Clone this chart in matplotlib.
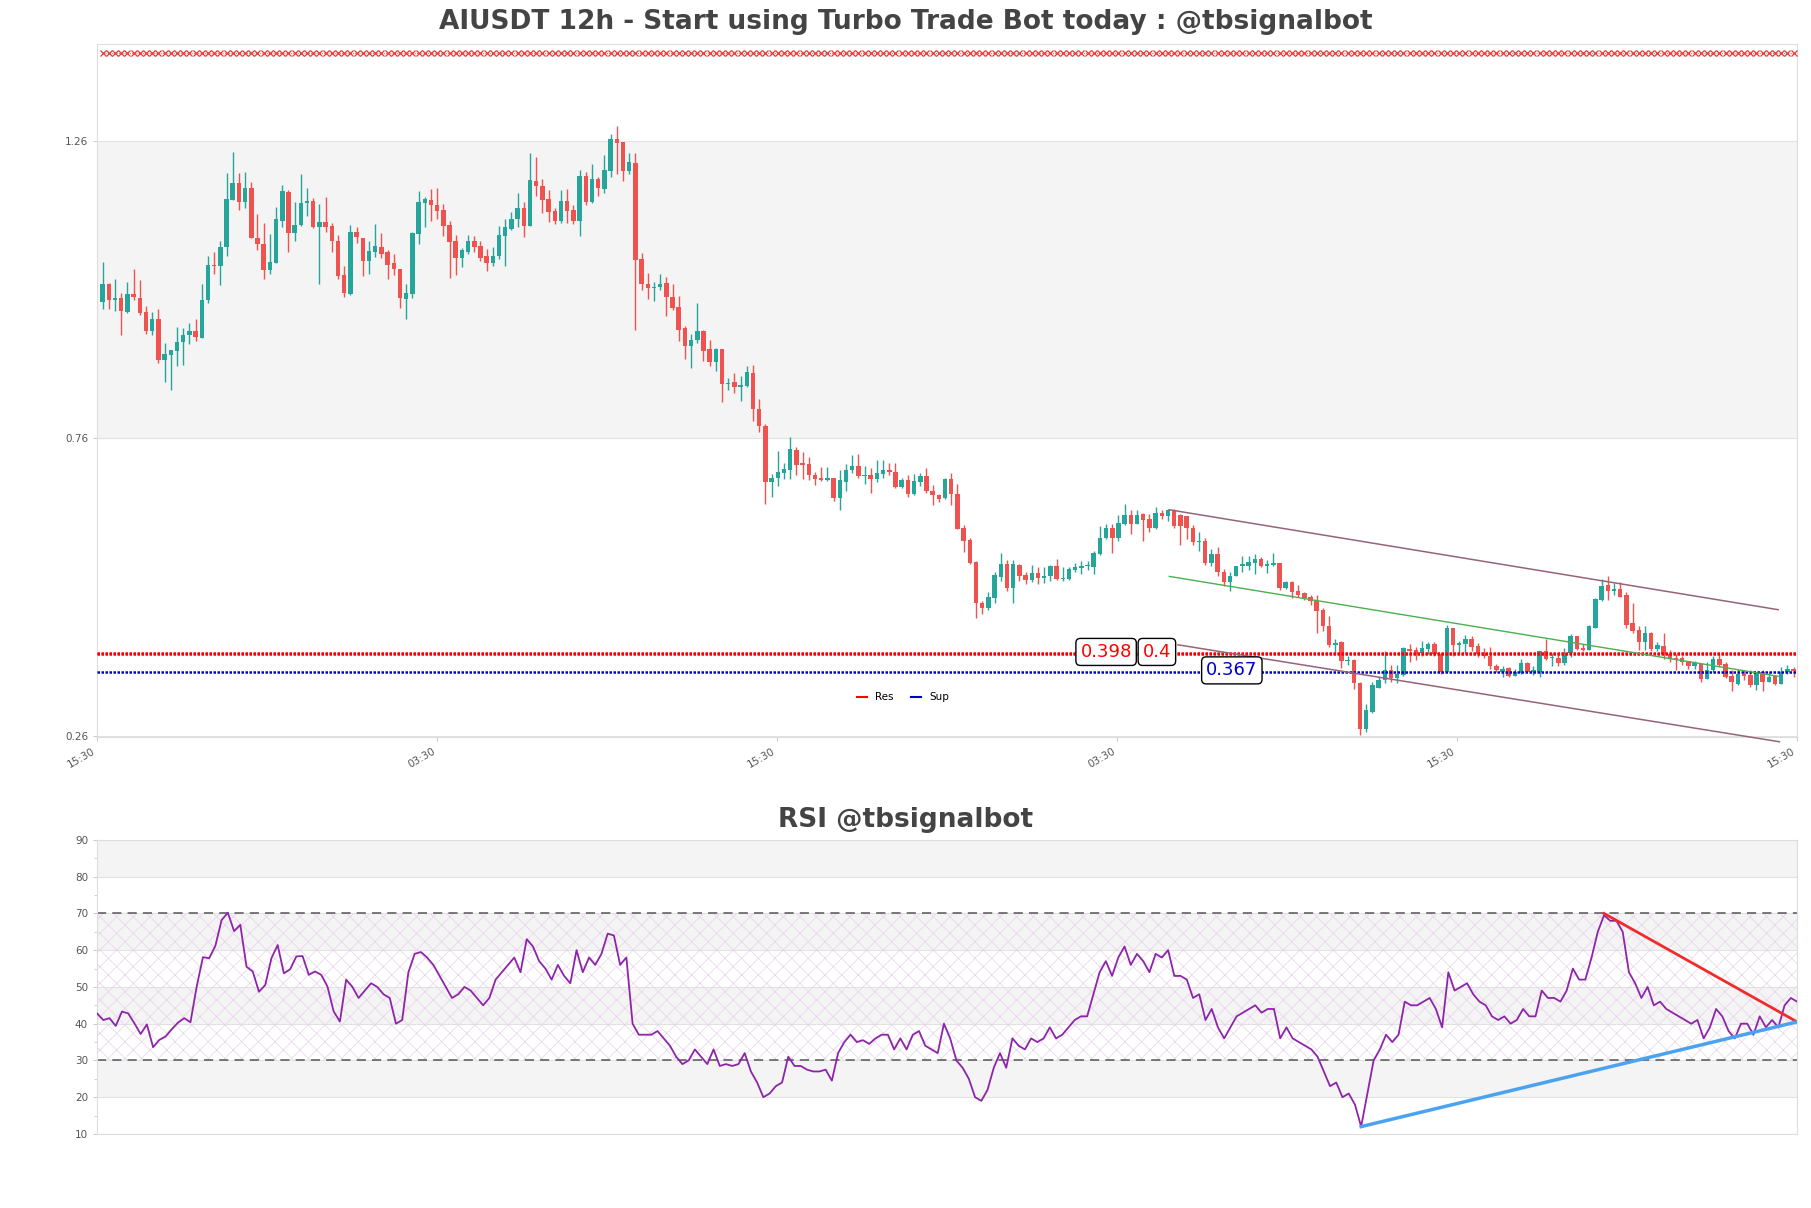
import numpy as np
import matplotlib
matplotlib.use("Agg")
import matplotlib.pyplot as plt
from matplotlib.lines import Line2D
from matplotlib.ticker import AutoMinorLocator

# 12h candles
opens = [
    0.990, 1.019, 0.993, 0.996, 0.973, 1.003, 0.996, 0.972, 0.940, 0.961,
    0.892, 0.900, 0.907, 0.922, 0.933, 0.940, 0.929, 0.992, 1.052, 1.049,
    1.082, 1.160, 1.189, 1.157, 1.181, 1.097, 1.087, 1.043, 1.055, 1.126,
    1.174, 1.106, 1.119, 1.155, 1.159, 1.116, 1.124, 1.117, 1.092, 1.034,
    1.003, 1.107, 1.097, 1.059, 1.074, 1.082, 1.073, 1.054, 1.045, 0.995,
    1.003, 1.104, 1.155, 1.161, 1.153, 1.144, 1.119, 1.091, 1.064, 1.073,
    1.091, 1.084, 1.066, 1.054, 1.067, 1.100, 1.112, 1.129, 1.147, 1.117,
    1.193, 1.185, 1.163, 1.143, 1.126, 1.159, 1.144, 1.125, 1.201, 1.157,
    1.196, 1.180, 1.210, 1.264, 1.258, 1.209, 1.223, 1.062, 1.020, 1.013,
    1.014, 1.021, 0.998, 0.981, 0.945, 0.915, 0.925, 0.940, 0.911, 0.888,
    0.910, 0.851, 0.854, 0.846, 0.848, 0.870, 0.810, 0.780, 0.686, 0.693,
    0.702, 0.707, 0.740, 0.718, 0.717, 0.698, 0.693, 0.690, 0.693, 0.660,
    0.687, 0.706, 0.713, 0.697, 0.698, 0.691, 0.700, 0.707, 0.704, 0.679,
    0.690, 0.667, 0.687, 0.696, 0.672, 0.664, 0.660, 0.691, 0.666, 0.609,
    0.589, 0.553, 0.483, 0.475, 0.492, 0.527, 0.549, 0.508, 0.547, 0.531,
    0.522, 0.534, 0.526, 0.528, 0.546, 0.524, 0.524, 0.539, 0.542, 0.545,
    0.544, 0.565, 0.592, 0.610, 0.592, 0.616, 0.632, 0.616, 0.633, 0.624,
    0.610, 0.634, 0.629, 0.639, 0.631, 0.630, 0.610, 0.585, 0.588, 0.550,
    0.565, 0.536, 0.518, 0.529, 0.545, 0.545, 0.550, 0.557, 0.546, 0.547,
    0.550, 0.508, 0.519, 0.504, 0.500, 0.493, 0.487, 0.472, 0.444, 0.413,
    0.417, 0.385, 0.387, 0.349, 0.272, 0.300, 0.341, 0.353, 0.370, 0.357,
    0.363, 0.406, 0.405, 0.399, 0.406, 0.414, 0.398, 0.367, 0.441, 0.412,
    0.414, 0.423, 0.411, 0.400, 0.395, 0.378, 0.368, 0.374, 0.361, 0.365,
    0.382, 0.367, 0.367, 0.402, 0.390, 0.391, 0.383, 0.399, 0.427, 0.408,
    0.405, 0.442, 0.489, 0.513, 0.504, 0.507, 0.497, 0.449, 0.438, 0.418,
    0.433, 0.406, 0.411, 0.398, 0.390, 0.390, 0.385, 0.378, 0.381, 0.356,
    0.370, 0.389, 0.381, 0.360, 0.347, 0.364, 0.362, 0.346, 0.367, 0.351,
    0.360, 0.347, 0.367, 0.372,
]
highs = [
    1.057, 1.021, 1.028, 1.005, 1.023, 1.044, 1.027, 0.982, 0.973, 0.977,
    0.920, 0.908, 0.948, 0.945, 0.954, 0.961, 1.019, 1.067, 1.073, 1.091,
    1.206, 1.241, 1.206, 1.207, 1.191, 1.137, 1.122, 1.103, 1.149, 1.186,
    1.178, 1.157, 1.205, 1.181, 1.164, 1.154, 1.165, 1.122, 1.102, 1.049,
    1.119, 1.116, 1.097, 1.092, 1.120, 1.105, 1.076, 1.070, 1.045, 1.020,
    1.107, 1.176, 1.165, 1.179, 1.181, 1.154, 1.126, 1.102, 1.080, 1.102,
    1.101, 1.091, 1.078, 1.081, 1.117, 1.129, 1.140, 1.172, 1.158, 1.239,
    1.233, 1.196, 1.177, 1.147, 1.177, 1.179, 1.153, 1.211, 1.207, 1.221,
    1.199, 1.237, 1.272, 1.285, 1.258, 1.240, 1.239, 1.072, 1.038, 1.023,
    1.036, 1.032, 1.020, 0.999, 0.949, 0.935, 0.988, 0.943, 0.926, 0.912,
    0.911, 0.862, 0.870, 0.865, 0.882, 0.883, 0.826, 0.785, 0.700, 0.739,
    0.719, 0.763, 0.745, 0.737, 0.728, 0.703, 0.712, 0.712, 0.694, 0.707,
    0.717, 0.732, 0.733, 0.714, 0.711, 0.723, 0.723, 0.718, 0.719, 0.693,
    0.698, 0.700, 0.701, 0.710, 0.681, 0.666, 0.693, 0.702, 0.683, 0.614,
    0.592, 0.554, 0.486, 0.501, 0.535, 0.567, 0.555, 0.555, 0.549, 0.535,
    0.547, 0.543, 0.543, 0.547, 0.558, 0.543, 0.543, 0.550, 0.554, 0.554,
    0.571, 0.612, 0.616, 0.616, 0.631, 0.650, 0.639, 0.639, 0.634, 0.633,
    0.644, 0.639, 0.642, 0.641, 0.633, 0.630, 0.614, 0.602, 0.593, 0.574,
    0.577, 0.540, 0.535, 0.546, 0.563, 0.563, 0.565, 0.560, 0.556, 0.567,
    0.550, 0.521, 0.521, 0.514, 0.501, 0.496, 0.496, 0.475, 0.461, 0.422,
    0.420, 0.395, 0.389, 0.350, 0.314, 0.350, 0.359, 0.403, 0.379, 0.379,
    0.409, 0.414, 0.409, 0.420, 0.417, 0.417, 0.400, 0.447, 0.442, 0.420,
    0.430, 0.427, 0.416, 0.407, 0.409, 0.381, 0.378, 0.375, 0.373, 0.389,
    0.384, 0.378, 0.403, 0.423, 0.399, 0.400, 0.407, 0.431, 0.428, 0.414,
    0.446, 0.491, 0.523, 0.529, 0.517, 0.518, 0.501, 0.484, 0.445, 0.445,
    0.434, 0.417, 0.433, 0.405, 0.398, 0.395, 0.386, 0.386, 0.383, 0.384,
    0.395, 0.398, 0.384, 0.370, 0.373, 0.370, 0.370, 0.368, 0.371, 0.367,
    0.361, 0.375, 0.379, 0.375,
]
lows = [
    0.977, 0.977, 0.974, 0.933, 0.971, 0.993, 0.967, 0.936, 0.933, 0.887,
    0.855, 0.841, 0.882, 0.883, 0.918, 0.923, 0.928, 0.988, 1.037, 1.017,
    1.066, 1.160, 1.144, 1.148, 1.096, 1.076, 1.028, 1.037, 1.054, 1.116,
    1.073, 1.091, 1.117, 1.134, 1.114, 1.020, 1.107, 1.073, 1.028, 0.998,
    1.001, 1.088, 1.033, 1.037, 1.065, 1.063, 1.028, 1.035, 0.980, 0.961,
    0.996, 1.087, 1.116, 1.125, 1.128, 1.101, 1.030, 1.034, 1.048, 1.070,
    1.073, 1.058, 1.041, 1.049, 1.062, 1.049, 1.111, 1.115, 1.098, 1.117,
    1.168, 1.139, 1.124, 1.120, 1.122, 1.122, 1.121, 1.101, 1.153, 1.155,
    1.168, 1.172, 1.199, 1.204, 1.193, 1.205, 0.943, 1.009, 0.995, 0.991,
    1.009, 0.965, 0.975, 0.923, 0.893, 0.879, 0.920, 0.890, 0.882, 0.873,
    0.821, 0.841, 0.837, 0.823, 0.847, 0.789, 0.771, 0.650, 0.661, 0.680,
    0.691, 0.691, 0.699, 0.691, 0.690, 0.682, 0.689, 0.689, 0.654, 0.640,
    0.671, 0.701, 0.693, 0.683, 0.669, 0.686, 0.694, 0.699, 0.676, 0.676,
    0.662, 0.664, 0.680, 0.669, 0.648, 0.653, 0.658, 0.648, 0.608, 0.569,
    0.549, 0.458, 0.465, 0.472, 0.484, 0.521, 0.504, 0.484, 0.521, 0.516,
    0.519, 0.515, 0.517, 0.521, 0.522, 0.521, 0.522, 0.536, 0.532, 0.539,
    0.532, 0.564, 0.591, 0.567, 0.588, 0.614, 0.599, 0.616, 0.588, 0.602,
    0.608, 0.624, 0.621, 0.610, 0.581, 0.591, 0.581, 0.571, 0.547, 0.546,
    0.528, 0.512, 0.504, 0.528, 0.536, 0.539, 0.532, 0.543, 0.534, 0.545,
    0.505, 0.507, 0.491, 0.494, 0.489, 0.480, 0.432, 0.437, 0.409, 0.398,
    0.374, 0.379, 0.338, 0.262, 0.266, 0.299, 0.341, 0.349, 0.351, 0.349,
    0.361, 0.384, 0.387, 0.395, 0.398, 0.395, 0.364, 0.367, 0.394, 0.398,
    0.399, 0.403, 0.392, 0.390, 0.373, 0.367, 0.359, 0.359, 0.360, 0.364,
    0.367, 0.362, 0.359, 0.387, 0.377, 0.378, 0.379, 0.393, 0.404, 0.403,
    0.405, 0.442, 0.487, 0.489, 0.496, 0.493, 0.442, 0.433, 0.405, 0.405,
    0.403, 0.403, 0.389, 0.384, 0.370, 0.379, 0.373, 0.373, 0.350, 0.355,
    0.368, 0.375, 0.357, 0.336, 0.346, 0.353, 0.342, 0.337, 0.336, 0.350,
    0.345, 0.347, 0.364, 0.359,
]
closes = [
    1.019, 0.992, 0.996, 0.974, 1.003, 0.997, 0.971, 0.941, 0.960, 0.892,
    0.902, 0.908, 0.922, 0.933, 0.940, 0.930, 0.993, 1.052, 1.049, 1.082,
    1.163, 1.189, 1.158, 1.181, 1.096, 1.087, 1.043, 1.057, 1.129, 1.176,
    1.106, 1.119, 1.155, 1.159, 1.116, 1.124, 1.116, 1.091, 1.033, 1.004,
    1.107, 1.098, 1.059, 1.075, 1.083, 1.070, 1.052, 1.044, 0.996, 1.005,
    1.106, 1.157, 1.163, 1.152, 1.143, 1.117, 1.090, 1.064, 1.076, 1.091,
    1.081, 1.064, 1.054, 1.067, 1.102, 1.115, 1.129, 1.147, 1.117, 1.195,
    1.185, 1.161, 1.141, 1.126, 1.159, 1.143, 1.125, 1.201, 1.157, 1.196,
    1.181, 1.211, 1.264, 1.257, 1.209, 1.224, 1.060, 1.020, 1.012, 1.015,
    1.020, 0.997, 0.980, 0.943, 0.915, 0.925, 0.940, 0.907, 0.888, 0.911,
    0.851, 0.852, 0.846, 0.849, 0.872, 0.810, 0.780, 0.686, 0.693, 0.703,
    0.708, 0.742, 0.716, 0.716, 0.698, 0.692, 0.690, 0.693, 0.660, 0.690,
    0.707, 0.714, 0.697, 0.698, 0.691, 0.701, 0.707, 0.703, 0.678, 0.690,
    0.666, 0.688, 0.697, 0.672, 0.664, 0.658, 0.691, 0.666, 0.608, 0.588,
    0.551, 0.483, 0.475, 0.493, 0.530, 0.549, 0.508, 0.548, 0.529, 0.522,
    0.534, 0.526, 0.529, 0.546, 0.524, 0.525, 0.540, 0.544, 0.546, 0.547,
    0.567, 0.593, 0.610, 0.592, 0.617, 0.632, 0.616, 0.631, 0.622, 0.610,
    0.634, 0.629, 0.640, 0.612, 0.612, 0.609, 0.585, 0.588, 0.551, 0.565,
    0.536, 0.518, 0.529, 0.545, 0.549, 0.553, 0.557, 0.545, 0.549, 0.550,
    0.508, 0.519, 0.502, 0.497, 0.491, 0.487, 0.470, 0.444, 0.413, 0.416,
    0.385, 0.387, 0.349, 0.272, 0.303, 0.345, 0.353, 0.370, 0.357, 0.364,
    0.407, 0.403, 0.400, 0.407, 0.414, 0.398, 0.367, 0.441, 0.412, 0.416,
    0.423, 0.409, 0.398, 0.395, 0.377, 0.370, 0.373, 0.361, 0.367, 0.382,
    0.368, 0.370, 0.402, 0.389, 0.392, 0.383, 0.400, 0.427, 0.406, 0.405,
    0.445, 0.490, 0.512, 0.504, 0.505, 0.494, 0.446, 0.437, 0.418, 0.433,
    0.406, 0.412, 0.398, 0.389, 0.388, 0.384, 0.378, 0.382, 0.356, 0.371,
    0.389, 0.379, 0.359, 0.350, 0.364, 0.361, 0.346, 0.367, 0.351, 0.359,
    0.347, 0.368, 0.372, 0.369,
]
rsi = [
    42.8, 41.0, 41.5, 39.4, 43.3, 42.8, 40.1, 37.2, 39.8, 33.6,
    35.6, 36.5, 38.5, 40.3, 41.5, 40.4, 50.1, 58.1, 57.8, 61.2,
    68.2, 70.2, 65.2, 66.9, 55.5, 54.2, 48.7, 50.5, 57.8, 61.4,
    53.7, 54.8, 58.3, 58.4, 53.3, 54.2, 53.3, 50.1, 43.3, 40.6,
    52, 50, 47, 49, 51, 50, 48, 47, 40, 41,
    54, 59, 59.5, 58, 56, 53, 50, 47, 48, 50,
    49, 47, 45, 47, 52, 54, 56, 58, 54, 63,
    61, 57, 55, 52, 56, 53, 51, 60, 54, 58,
    56, 59, 64.5, 64, 56, 58, 40, 37, 37, 37,
    38, 36, 34, 31, 29, 30, 33, 31, 29, 33,
    28.5, 29, 28.5, 29, 32, 27, 24, 20, 21, 23,
    24, 31, 28.5, 28.5, 27.5, 27, 27, 27.5, 24.5, 32,
    35, 37, 35, 35.5, 34.5, 36, 37, 37, 33, 36,
    33, 37, 38, 34, 33, 32, 40, 36, 30, 28,
    25, 20, 19, 22, 28, 32, 28, 36, 34, 33,
    36, 35, 36, 39, 36, 37, 39, 41, 42, 42,
    48, 54, 57, 53, 58, 61, 56, 59, 57, 54,
    59, 58, 60, 53, 53, 52, 47, 48, 41, 44,
    39, 36, 39, 42, 43, 44, 45, 43, 44, 44,
    36, 39, 36, 35, 34, 33, 31, 27, 23, 24,
    20, 21, 18, 12, 21, 30, 33, 37, 35, 37,
    46, 45, 45, 46, 47, 44, 39, 54, 49, 50,
    51, 48, 46, 45, 42, 41, 42, 40, 41, 44,
    42, 42, 49, 47, 47, 46, 49, 55, 52, 52,
    58, 65, 69.5, 68, 68, 65, 54, 51, 47, 50,
    45, 46, 44, 43, 42, 41, 40, 41, 36, 39,
    44, 42, 38, 36, 40, 40, 37, 42, 39, 41,
    39, 45, 47, 46,
]
time_labels = ["15:30", "03:30", "15:30", "03:30", "15:30", "15:30"]

# levels and trend lines
top_level = 1.408
res_levels = [0.398, 0.4]
sup_level = 0.367
chan_x = [172.2, 270.5]
chan_upper = [0.640, 0.472]
chan_mid = [0.528, 0.360]
chan_low_x = [173.6, 270.7]
chan_lower = [0.413, 0.250]
rsi_res_x = [242, 273]
rsi_res_y = [70.0, 40.5]
rsi_sup_x = [203, 273]
rsi_sup_y = [12.0, 40.5]

UP = '#26a69a'
DOWN = '#ef5350'
GRAY = '#f4f4f4'
SPINE = '#dddddd'
TXT = '#444444'

plt.rcParams['hatch.linewidth'] = 0.5

o = np.array(opens)
h = np.array(highs)
l = np.array(lows)
c = np.array(closes)
n = len(c)
idx = np.arange(n)

fig = plt.figure(figsize=(18.11, 12.08), dpi=100)
ax = fig.add_axes([0.0536, 0.3899, 0.9387, 0.5737])
ax2 = fig.add_axes([0.0536, 0.0613, 0.9387, 0.2434])

# ---- price panel ----
ax.axhspan(0.76, 1.26, color=GRAY, zorder=0, lw=0)
for t in (0.26, 0.76, 1.26):
    ax.axhline(t, color='#e2e2e2', lw=0.8, zorder=0.5)

col = np.where(c >= o, UP, DOWN)
ax.vlines(idx, l, h, colors=col, lw=1.0, zorder=2)
body = np.maximum(np.abs(c - o), 0.002)
ax.bar(idx, body, bottom=np.minimum(o, c), width=0.72, color=col, lw=0, zorder=3)

ax.plot(idx, np.full(n, top_level), color='#e53935', lw=0.6, ls=':',
        marker='x', ms=5, mew=0.9, zorder=4)

for lv in res_levels:
    ax.axhline(lv, color='red', ls=(0, (1, 0.6)), lw=1.8, zorder=4)
ax.axhline(sup_level, color='mediumblue', ls=(0, (1, 0.6)), lw=1.8, zorder=4)

ax.plot(chan_x, chan_upper, color='#96647a', lw=1.1, zorder=5)
ax.plot(chan_x, chan_mid, color='#4caf50', lw=1.0, zorder=5)
ax.plot(chan_low_x, chan_lower, color='#96647a', lw=1.1, zorder=5, clip_on=False)

box = dict(boxstyle='round,pad=0.25', fc='white', ec='black', lw=1)
ax.text(162.0, 0.401, '0.398', color='red', fontsize=13, ha='center', va='center', bbox=box, zorder=6)
ax.text(170.2, 0.401, '0.4', color='red', fontsize=13, ha='center', va='center', bbox=box, zorder=6)
ax.text(182.3, 0.370, '0.367', color='mediumblue', fontsize=13, ha='center', va='center', bbox=box, zorder=6)

handles = [Line2D([0], [0], color='red', lw=1.5), Line2D([0], [0], color='mediumblue', lw=1.5)]
ax.legend(handles, ['Res', 'Sup'], loc='center', bbox_to_anchor=(0.474, 0.057), ncol=2,
          frameon=False, fontsize=7.5, handlelength=1.0, columnspacing=1.6)

x0, x1 = -0.9, n - 0.45
ax.set_xlim(x0, x1)
ax.set_ylim(0.258, 1.423)
ax.set_yticks([0.26, 0.76, 1.26])
ax.set_yticklabels(['0.26', '0.76', '1.26'])
ax.set_xticks(np.linspace(x0, x1, len(time_labels)))
ax.set_xticklabels(time_labels, rotation=30, ha='right')
ax.tick_params(labelsize=7.5, colors='#555555', length=3, color='#cccccc')
for s in ax.spines.values():
    s.set_color(SPINE)

# ---- RSI panel ----
for lo in (20, 40, 60, 80):
    ax2.axhspan(lo, lo + 10, color=GRAY, zorder=0, lw=0)
for t in range(10, 91, 10):
    ax2.axhline(t, color='#e2e2e2', lw=0.8, zorder=0.5)
ax2.fill_between([0, n - 1], 30, 70, facecolor='none', edgecolor='#e6d3ea',
                 hatch='xx', lw=0, zorder=0.6)
ax2.axhline(70, color='#555555', ls='--', lw=1.1, dashes=(6, 4), zorder=1)
ax2.axhline(30, color='#555555', ls='--', lw=1.1, dashes=(6, 4), zorder=1)

ax2.plot(idx, rsi, color='#8e24aa', lw=1.3, zorder=3)
ax2.plot(rsi_res_x, rsi_res_y, color='#f02b2b', lw=2, zorder=4)
ax2.plot(rsi_sup_x, rsi_sup_y, color='#4aa3f0', lw=2.5, zorder=4)

ax2.set_xlim(0, n - 1)
ax2.set_ylim(10, 90)
ax2.set_yticks(range(10, 91, 10))
ax2.yaxis.set_minor_locator(AutoMinorLocator(2))
ax2.set_xticks([])
ax2.tick_params(labelsize=7.5, colors='#555555', length=3, color='#cccccc')
ax2.tick_params(which='minor', length=2, color='#cccccc')
for s in ax2.spines.values():
    s.set_color(SPINE)

fig.text(0.5, 0.982, 'AIUSDT 12h - Start using Turbo Trade Bot today : @tbsignalbot',
         ha='center', va='center', fontsize=19, fontweight='bold', color=TXT)
fig.text(0.5, 0.321, 'RSI @tbsignalbot', ha='center', va='center',
         fontsize=19, fontweight='bold', color=TXT)

fig.savefig('out.png', dpi=100)
